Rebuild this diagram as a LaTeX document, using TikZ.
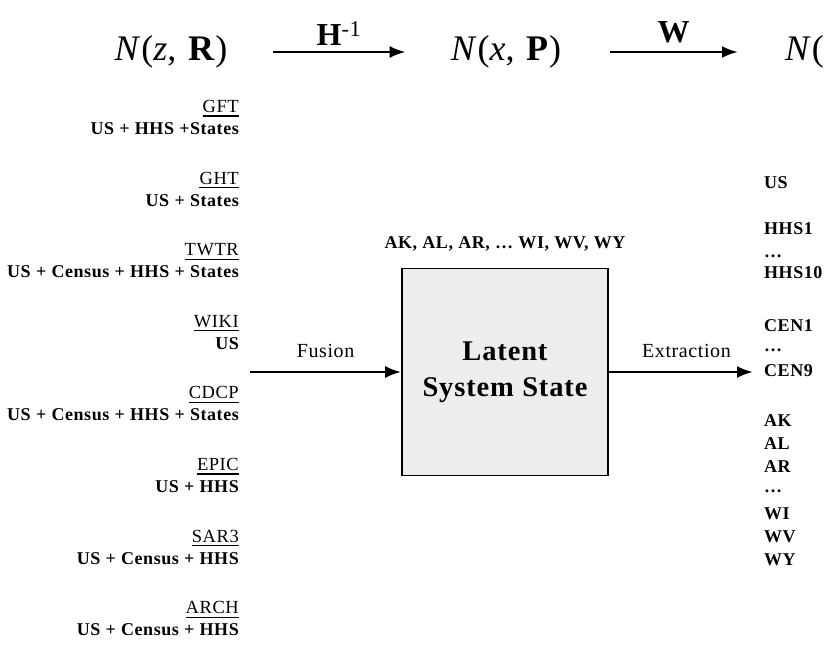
\documentclass[tikz,border=0pt]{standalone}
\usepackage{fontspec}
\setmainfont{Liberation Serif}[LetterSpace=3,WordSpace=1.05]
\usetikzlibrary{arrows.meta,positioning}
\tikzset{>={Latex[length=16pt,width=12pt]}}

\begin{document}
\begin{tikzpicture}[x=1pt,y=-1pt,
    flow/.style={->,line width=2.4pt},
    toplbl/.style={font=\fontsize{36}{40}\selectfont,inner sep=1pt},
    oplbl/.style={font=\bfseries\fontsize{32}{36}\selectfont,inner sep=0pt},
    srcname/.style={anchor=base east,inner sep=0pt,font=\fontsize{18.5}{22}\selectfont},
    srcarea/.style={anchor=base east,inner sep=0pt,font=\bfseries\fontsize{18}{20}\selectfont},
    outitem/.style={anchor=base west,inner sep=0pt,font=\bfseries\fontsize{18}{20}\selectfont},
    flowlbl/.style={inner sep=0pt,font=\fontsize{20}{22}\selectfont},
    statebox/.style={draw,line width=1.8pt,fill=gray!14,minimum width=206pt,
      minimum height=207pt,align=center,font=\bfseries\fontsize{28.5}{36}\selectfont}]
  \useasboundingbox (0,0) rectangle (825,645);
  % top row: distributions
  \node[toplbl] (nzr) at (171,52) {\textit{N}(\textit{z}, \textbf{R})};
  \node[toplbl] (nxp) at (506,52) {\textit{N}(\textit{x}, \textbf{P})};
  \node[toplbl,anchor=west,inner sep=0pt] (nend) at (785,52) {\textit{N}(};
  \draw[flow,shorten <=44pt,shorten >=44pt] (nzr) -- (nxp)
    node[oplbl,midway,above=5pt] (hinv) {H\textsuperscript{\mdseries -1}};
  \draw[flow,shorten <=48pt,shorten >=47pt] (nxp) -- (nend)
    node[oplbl,midway,above=8pt] (wmap) {W};
  % sources on the left
  \foreach \nm/\area [count=\i] in {GFT/US + HHS +States, GHT/US + States,
      TWTR/US + Census + HHS + States, WIKI/US, CDCP/US + Census + HHS + States,
      EPIC/US + HHS, SAR3/US + Census + HHS, ARCH/US + Census + HHS}{
    \pgfmathsetmacro\yb{112.5+71.6*(\i-1)}
    \node[srcname] (src\i) at (239,\yb) {\nm};
    \draw[line width=1.1pt] ([yshift=-3.5pt]src\i.base west) -- ([yshift=-3.5pt]src\i.base east);
    \node[srcarea] (area\i) at (239,\yb+22) {\area};
  }
  % latent state
  \node[statebox] (state) at (505,372) {Latent\\System State};
  \node[outitem,anchor=base] (regions) at (505,248) {AK, AL, AR, \ldots\ WI, WV, WY};
  \coordinate (fusein) at (250,372);
  \draw[flow] (fusein) -- (state.west) node[flowlbl,midway,above=13pt] (fusion) {Fusion};
  % outputs on the right
  \foreach \itm/\yb [count=\j] in {US/188.5, HHS1/234.5, \ldots/257.5, HHS10/278.5,
      CEN1/331.5, \ldots/351.5, CEN9/376.5, AK/426.5, AL/449.5, AR/472.5,
      \ldots/492.5, WI/519.5, WV/542.5, WY/565.5}{
    \node[outitem] (out\j) at (764,\yb) {\itm};
  }
  \draw[flow,shorten >=11pt] (state.east) -- (state.east -| out7.west)
    node[flowlbl,midway,above=13pt] (extract) {Extraction};
\end{tikzpicture}
\end{document}
